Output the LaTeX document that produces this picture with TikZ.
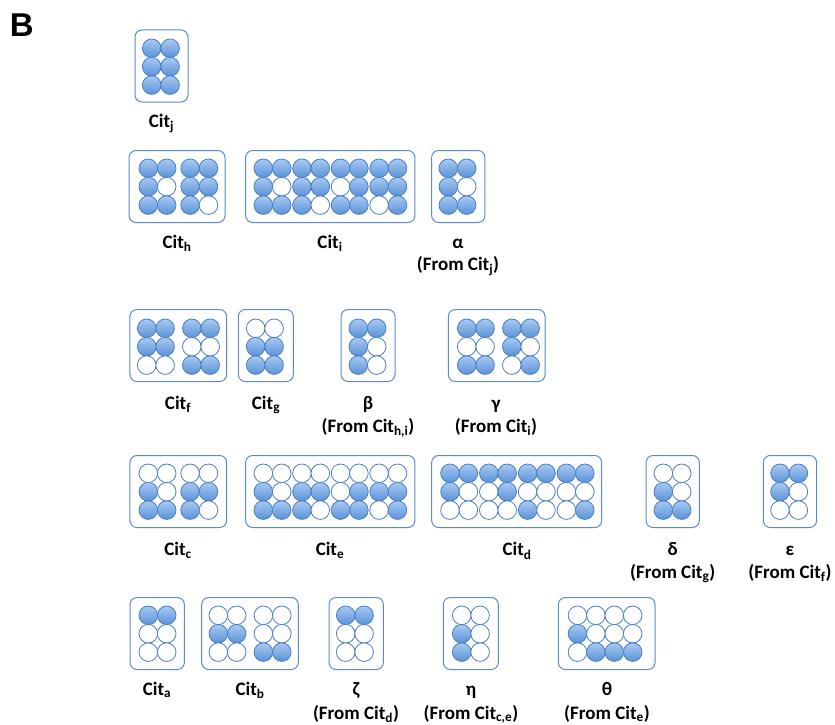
\documentclass[tikz,border=0pt]{standalone}
\usepackage{fontspec}
\setmainfont{Carlito}
\newfontfamily\headfont{Liberation Sans}

\definecolor{dotedge}{HTML}{4A7EC4}
\definecolor{dotlight}{HTML}{A8CAF2}
\definecolor{dotdark}{HTML}{5A92D8}
\definecolor{boxedge}{HTML}{5A8CCC}

\tikzset{
  cellbox/.style={draw=boxedge, line width=1pt, rounded corners=7pt, inner sep=0pt, minimum height=72pt},
  fulldot/.style={draw=dotedge, line width=0.8pt, top color=dotlight, bottom color=dotdark},
  emptydot/.style={draw=dotedge, line width=0.8pt, fill=white},
  lbl/.style={anchor=base, inner sep=0pt, font=\fontsize{19}{23}\selectfont\bfseries},
}

% #1,#2: centre of the top-left dot; #3: extra gap after every pair of columns;
% #4: rows, each a list of 1 (filled dot) / 0 (open dot)
\newcommand\dotgrid[4]{%
  \foreach \rowvals [count=\r] in {#4} {
    \foreach \st [count=\c] in \rowvals {
      \pgfmathsetmacro\dx{#1+(\c-1)*18.4+floor((\c-1)/2)*#3}
      \pgfmathsetmacro\dy{#2+(\r-1)*18.4}
      \ifnum\st=1\relax
        \path[fulldot] (\dx,\dy) circle[radius=9.3pt];
      \else
        \path[emptydot] (\dx,\dy) circle[radius=9.3pt];
      \fi
    }
  }%
}

\begin{document}
\begin{tikzpicture}[x=1pt,y=-1pt]
\useasboundingbox (0,0) rectangle (835,725);
\fill[white] (0,0) rectangle (835,725);

\node[anchor=base west, inner sep=0pt, font=\headfont\fontsize{33}{33}\selectfont\bfseries] (panel) at (9.6,37) {B};

% ---- row 1
\node[cellbox, minimum width=53pt] (citj) at (161.5,66) {};
\dotgrid{151.7}{48.3}{0}{{1,1},{1,1},{1,1}}
\node[lbl] (lcitj) at (161.5,127) {Cit\textsubscript{j}};

% ---- row 2
\node[cellbox, minimum width=96pt] (cith) at (177,186.5) {};
\dotgrid{148.3}{168.3}{5}{{1,1,1,1},{1,0,1,1},{1,1,1,0}}
\node[cellbox, minimum width=169.3pt] (citi) at (330.3,186.5) {};
\dotgrid{263.3}{168.3}{1.8}{{1,1,1,1,1,1,1,1},{1,0,1,1,0,1,1,1},{1,1,1,0,1,1,0,1}}
\node[cellbox, minimum width=53.3pt] (alpha) at (458.3,186.5) {};
\dotgrid{448.3}{168.3}{0}{{1,1},{1,0},{1,1}}

\node[lbl] (lcith) at (177,248) {Cit\textsubscript{h}};
\node[lbl] (lciti) at (330,248) {Cit\textsubscript{i}};
\node[lbl] (lalpha) at (458,248) {α};
\node[lbl] (salpha) at (458,270) {(From Cit\textsubscript{j})};

% ---- row 3
\node[cellbox, minimum width=96.7pt] (citf) at (178.3,345.5) {};
\dotgrid{146.7}{328.3}{8.3}{{1,1,1,1},{1,1,0,0},{0,0,1,1}}
\node[cellbox, minimum width=55pt] (citg) at (265.8,345.5) {};
\dotgrid{255.7}{328.3}{0}{{0,0},{1,1},{1,1}}
\node[cellbox, minimum width=54pt] (beta) at (368,345.5) {};
\dotgrid{358.3}{328.3}{0}{{1,1},{1,0},{1,0}}
\node[cellbox, minimum width=96.7pt] (gamma) at (496.7,345.5) {};
\dotgrid{466.7}{328.3}{8.3}{{1,1,1,1},{0,0,1,0},{1,1,0,1}}

\node[lbl] (lcitf) at (178,409) {Cit\textsubscript{f}};
\node[lbl] (lcitg) at (266,409) {Cit\textsubscript{g}};
\node[lbl] (lbeta) at (368,409) {β};
\node[lbl] (sbeta) at (368,432) {(From Cit\textsubscript{h,i})};
\node[lbl] (lgamma) at (496,409) {γ};
\node[lbl] (sgamma) at (496,432) {(From Cit\textsubscript{i})};

% ---- row 4
\node[cellbox, minimum width=96.7pt] (citc) at (178.3,491.5) {};
\dotgrid{148.3}{473.3}{5}{{0,0,0,0},{1,0,1,1},{1,1,1,0}}
\node[cellbox, minimum width=169.3pt] (cite) at (330.3,491.5) {};
\dotgrid{263.3}{473.3}{1.8}{{0,0,0,0,0,0,0,0},{1,0,1,1,0,1,1,1},{1,1,1,0,1,1,0,1}}
\node[cellbox, minimum width=170pt] (citd) at (516.7,491.5) {};
\dotgrid{450}{473.3}{2}{{1,1,1,1,1,1,1,1},{1,0,0,1,0,0,0,0},{0,0,0,0,1,0,0,1}}
\node[cellbox, minimum width=53.3pt] (delta) at (672.7,491.5) {};
\dotgrid{663.3}{473.3}{0}{{0,0},{1,0},{1,1}}
\node[cellbox, minimum width=53.3pt] (epsilon) at (790,491.5) {};
\dotgrid{780}{473.3}{0}{{1,1},{1,0},{0,0}}

\node[lbl] (lcitc) at (178,555.7) {Cit\textsubscript{c}};
\node[lbl] (lcite) at (330,555.7) {Cit\textsubscript{e}};
\node[lbl] (lcitd) at (517,555.7) {Cit\textsubscript{d}};
\node[lbl] (ldelta) at (672.7,555.7) {δ};
\node[lbl] (sdelta) at (672.7,578) {(From Cit\textsubscript{g})};
\node[lbl] (lepsilon) at (790,555.7) {ε};
\node[lbl] (sepsilon) at (790,578) {(From Cit\textsubscript{f})};

% ---- row 5
\node[cellbox, minimum width=54.3pt] (cita) at (157.2,633.5) {};
\dotgrid{148.3}{615.3}{0}{{1,1},{0,0},{0,0}}
\node[cellbox, minimum width=96.6pt] (citb) at (250,633.5) {};
\dotgrid{218.3}{615.3}{8.3}{{0,0,0,0},{1,1,0,0},{0,0,1,1}}
\node[cellbox, minimum width=54.3pt] (zeta) at (356.2,633.5) {};
\dotgrid{345.7}{615.3}{0}{{1,1},{0,0},{0,0}}
\node[cellbox, minimum width=55pt] (eta) at (470.8,633.5) {};
\dotgrid{461.7}{615.3}{0}{{0,0},{1,0},{1,0}}
\node[cellbox, minimum width=96.7pt] (theta) at (606.7,633.5) {};
\dotgrid{577.5}{615.3}{0}{{0,0,0,0},{1,0,0,0},{0,1,1,1}}

\node[lbl] (lcita) at (157,695) {Cit\textsubscript{a}};
\node[lbl] (lcitb) at (250,695) {Cit\textsubscript{b}};
\node[lbl] (lzeta) at (356,695) {ζ};
\node[lbl] (szeta) at (356,719) {(From Cit\textsubscript{d})};
\node[lbl] (leta) at (471,695) {η};
\node[lbl] (seta) at (471,719) {(From Cit\textsubscript{c,e})};
\node[lbl] (ltheta) at (607,695) {θ};
\node[lbl] (stheta) at (607,719) {(From Cit\textsubscript{e})};
\end{tikzpicture}
\end{document}
